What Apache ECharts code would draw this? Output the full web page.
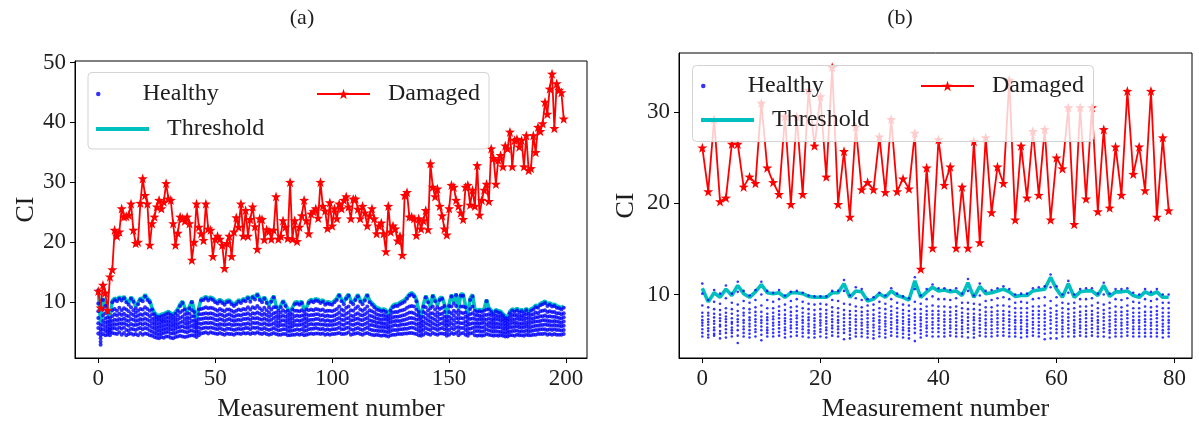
<!DOCTYPE html>
<html>
<head>
<meta charset="utf-8">
<script src="https://cdn.jsdelivr.net/npm/echarts@6/dist/echarts.min.js"></script>
<style>
html, body { margin: 0; padding: 0; background: #ffffff; }
#chart { width: 1199px; height: 430px; }
</style>
</head>
<body>
<div id="chart"></div>
<script>
// ---------- Panel (a): 200 measurements ----------
const damagedA = [
  11.8, 9.0, 12.8, 11.5, 8.6, 14.2, 15.4, 22.0, 21.0, 21.7,
  25.6, 24.2, 24.3, 24.5, 26.4, 22.0, 19.8, 20.0, 26.5, 30.6,
  27.8, 26.4, 19.5, 23.1, 24.2, 25.9, 27.0, 25.6, 26.7, 29.8,
  27.2, 27.0, 23.1, 19.5, 21.5, 24.2, 23.9, 23.5, 24.2, 23.1,
  17.0, 20.0, 26.4, 22.5, 21.4, 20.3, 26.4, 22.2, 22.0, 17.6,
  20.5, 21.0, 20.5, 19.5, 15.6, 19.8, 21.0, 17.6, 21.7, 24.1,
  22.5, 26.4, 21.0, 25.3, 21.0, 23.8, 25.9, 22.6, 18.8, 23.9,
  23.8, 20.4, 22.1, 21.8, 20.5, 22.0, 27.6, 20.5, 21.0, 23.6,
  22.5, 20.6, 30.0, 20.5, 23.6, 20.1, 22.5, 24.4, 27.0, 23.6,
  21.4, 24.7, 25.1, 25.6, 24.0, 30.0, 26.0, 25.2, 22.3, 26.6,
  22.7, 25.6, 23.9, 26.4, 25.6, 27.0, 27.6, 25.9, 23.9, 27.2,
  27.2, 25.5, 23.9, 26.0, 24.9, 22.7, 24.4, 25.6, 23.9, 21.4,
  22.7, 23.2, 21.4, 18.4, 26.0, 21.7, 22.7, 22.2, 20.2, 21.0,
  17.8, 27.8, 28.3, 24.2, 24.2, 23.9, 21.1, 23.9, 22.2, 23.6,
  25.3, 22.1, 33.1, 29.2, 27.6, 28.9, 26.0, 24.4, 22.2, 21.2,
  25.6, 29.5, 29.2, 27.0, 26.0, 24.9, 23.8, 29.2, 29.5, 26.2,
  28.7, 26.0, 32.8, 24.5, 27.0, 28.7, 29.7, 26.8, 35.6, 34.0,
  29.7, 33.7, 34.5, 32.6, 36.1, 35.6, 38.4, 32.6, 37.0, 37.2,
  35.9, 37.0, 32.6, 37.8, 32.0, 32.3, 37.8, 35.0, 39.2, 38.5,
  39.8, 43.4, 41.4, 45.6, 48.1, 39.0, 46.5, 45.4, 45.0, 40.6
];

const thresholdA = [
  12.2, 6.4, 10.6, 9.6, 8.4, 7.4, 10.2, 10.6, 10.4, 10.8,
  10.5, 10.9, 10.2, 9.8, 10.8, 10.3, 9.2, 9.9, 10.6, 10.4,
  11.2, 10.6, 10.2, 9.0, 8.2, 7.8, 7.7, 7.9, 8.0, 8.2,
  8.4, 8.1, 7.9, 8.3, 8.8, 9.6, 10.1, 9.0, 8.4, 9.2,
  10.2, 8.6, 7.2, 9.0, 10.5, 10.6, 10.9, 10.5, 10.8, 10.6,
  10.2, 10.0, 10.4, 10.1, 9.8, 10.2, 10.3, 9.9, 9.6, 9.9,
  10.3, 10.1, 10.5, 10.4, 10.9, 10.3, 11.0, 10.7, 11.4, 10.6,
  10.2, 10.8, 10.1, 9.4, 10.3, 11.0, 9.4, 8.8, 9.4, 10.2,
  9.6, 8.8, 8.4, 9.0, 9.9, 10.0, 9.8, 10.1, 8.6, 9.0,
  10.1, 10.4, 10.2, 10.5, 10.4, 10.1, 10.3, 9.8, 10.0, 9.9,
  9.8, 10.2, 10.6, 11.3, 10.4, 9.9, 10.8, 11.3, 10.2, 9.9,
  10.6, 11.2, 10.3, 9.9, 10.5, 11.3, 10.2, 9.8, 9.4, 9.0,
  8.9, 8.7, 8.8, 8.6, 7.9, 8.8, 9.4, 9.6, 9.6, 9.9,
  10.1, 10.3, 10.8, 11.3, 11.5, 11.2, 10.4, 8.6, 7.7, 9.5,
  11.0, 10.2, 9.2, 11.2, 10.4, 9.4, 10.6, 10.8, 9.6, 7.8,
  9.6, 11.2, 10.0, 11.4, 8.8, 11.3, 11.3, 9.4, 8.0, 10.6,
  11.2, 8.8, 8.6, 8.7, 8.6, 8.8, 10.4, 9.0, 8.6, 8.2,
  8.7, 8.5, 8.4, 8.0, 7.6, 7.5, 8.4, 8.8, 8.6, 8.9,
  8.5, 8.7, 8.4, 8.9, 8.3, 8.8, 9.0, 9.4, 9.3, 9.7,
  9.9, 10.1, 9.6, 9.8, 9.5, 9.6, 9.3, 9.2, 9.0, 9.3
];

// healthy readings per measurement, in tenths of CI
const healthyA = [
  [119,97,84,73,64,56,47],[61,55,50,44,39,33,28],[103,88,77,68,61,54,46],[93,81,72,65,58,51,44],[82,74,67,61,55,50,45],
  [72,67,62,57,53,49,44],[99,86,76,68,61,55,48],[103,88,79,70,63,56,47],[101,85,77,69,62,54,46],[105,90,80,71,64,57,49],
  [102,86,78,70,63,55,45],[106,89,80,72,64,57,48],[99,87,77,69,62,53,44],[95,84,76,68,60,52,46],[105,91,80,71,63,55,47],
  [100,86,78,70,61,54,45],[89,82,75,68,61,53,46],[96,85,77,69,62,55,44],[103,88,79,71,64,56,48],[101,87,78,70,62,54,45],
  [109,91,81,72,64,56,47],[103,88,79,70,62,55,46],[99,85,76,68,60,52,44],[87,79,71,64,57,50,43],[79,73,67,61,55,48,41],
  [75,70,64,58,52,46,40],[74,69,63,57,51,45,39],[76,70,65,59,53,47,41],[77,71,66,60,54,48,40],[79,73,67,61,55,49,42],
  [81,74,68,62,56,50,42],[78,72,66,60,54,47,40],[76,70,64,59,53,47,39],[80,73,67,61,55,48,41],[85,77,70,63,57,50,42],
  [93,82,73,65,58,51,43],[98,85,75,67,59,51,42],[87,79,71,64,57,50,41],[81,74,68,62,56,49,42],[89,80,72,65,58,51,43],
  [99,86,76,68,60,52,44],[83,76,69,63,57,50,43],[69,65,61,57,52,47,41],[87,79,71,64,57,50,44],[102,88,79,71,63,55,47],
  [103,89,80,72,64,56,48],[106,91,81,73,65,57,49],[102,89,80,72,64,56,47],[105,90,81,73,65,57,49],[103,89,80,72,64,56,48],
  [99,87,78,70,62,55,47],[97,85,77,69,61,54,46],[101,88,79,71,63,56,48],[98,86,78,70,62,54,46],[95,84,76,68,61,53,45],
  [99,87,78,70,62,55,47],[100,87,79,71,63,55,46],[96,85,77,69,61,54,46],[93,83,75,68,61,53,45],[96,85,77,69,62,54,47],
  [100,87,78,70,62,55,47],[98,86,77,69,61,54,46],[102,88,79,71,63,55,48],[101,87,79,71,63,56,47],[106,91,81,72,64,56,48],
  [100,87,78,70,62,54,46],[107,91,81,73,65,57,48],[104,89,80,72,64,56,47],[111,93,82,73,65,57,49],[103,89,80,71,63,55,47],
  [99,86,78,70,62,54,46],[105,90,80,72,64,56,48],[98,86,78,70,62,54,46],[91,82,75,68,61,53,45],[100,87,78,70,62,54,46],
  [107,91,81,73,64,56,48],[91,82,75,68,61,54,46],[85,78,72,65,59,52,45],[91,82,75,68,61,53,45],[99,86,77,69,61,54,46],
  [93,83,75,68,61,54,46],[85,78,71,65,58,51,44],[81,75,69,63,57,51,44],[87,79,72,65,59,52,45],[96,85,76,68,61,53,45],
  [97,85,77,69,61,54,46],[95,84,76,68,61,53,45],[98,86,77,69,62,54,46],[83,77,71,64,58,51,44],[87,79,72,66,59,52,45],
  [98,86,77,69,62,54,46],[101,87,78,70,63,55,47],[99,86,78,70,62,55,46],[102,88,79,71,63,56,47],[101,87,79,71,63,55,47],
  [98,86,77,69,62,54,46],[100,87,78,70,62,55,47],[95,84,76,68,61,53,45],[97,85,77,69,61,54,46],[96,85,76,68,61,53,45],
  [95,84,76,68,61,54,46],[99,86,77,69,62,54,46],[103,88,79,71,63,55,47],[110,92,82,73,65,57,48],[101,87,78,70,62,54,46],
  [96,85,77,69,61,54,46],[105,90,80,72,64,56,47],[110,92,82,73,65,57,49],[99,86,77,69,62,54,45],[96,85,76,69,61,53,46],
  [103,89,79,71,63,55,47],[109,92,81,72,64,56,48],[100,87,78,70,62,54,46],[96,85,77,69,61,53,45],[102,88,79,71,63,55,47],
  [110,92,82,73,65,57,48],[99,86,77,69,61,54,46],[95,84,76,68,61,53,45],[91,82,74,67,60,52,44],[87,79,72,65,59,52,45],
  [86,78,71,65,58,51,44],[84,77,70,64,58,51,43],[85,78,71,64,58,51,44],[83,76,70,63,57,50,43],[76,71,66,60,55,49,42],
  [85,78,71,65,58,51,44],[91,82,74,67,60,53,45],[93,83,75,68,61,53,45],[93,83,75,68,60,53,46],[96,85,76,68,61,54,46],
  [98,86,77,69,62,54,46],[100,87,78,70,62,55,47],[105,90,80,71,63,55,47],[110,92,82,73,64,56,48],[112,93,82,73,65,57,48],
  [109,92,81,72,64,56,47],[101,87,78,70,62,54,46],[83,77,71,64,58,51,44],[74,69,64,59,54,49,43],[92,83,75,67,60,53,45],
  [107,91,81,72,64,56,48],[99,86,77,69,62,54,46],[89,81,74,67,60,53,45],[109,92,81,72,64,56,48],[101,87,78,70,62,55,46],
  [91,82,75,67,60,53,45],[103,88,79,71,63,55,47],[105,90,80,72,64,56,47],[93,83,75,68,61,54,46],[75,70,65,60,55,49,43],
  [93,83,75,68,61,53,45],[109,92,81,72,64,56,48],[97,85,77,69,61,54,46],[111,93,82,73,65,57,48],[85,78,71,65,58,51,44],
  [110,92,82,73,64,56,47],[110,92,81,72,64,56,48],[91,82,75,67,60,53,45],[77,72,66,61,55,49,43],[103,88,79,71,63,55,47],
  [109,92,81,72,64,56,48],[85,78,71,64,58,51,44],[83,77,70,64,58,51,43],[84,77,71,64,58,51,44],[83,76,70,64,57,50,43],
  [85,78,71,65,58,51,44],[101,87,78,70,62,54,46],[87,79,72,65,59,52,45],[83,77,70,64,58,51,44],[79,73,68,62,56,50,43],
  [84,77,71,64,58,51,44],[82,76,70,63,57,50,43],[81,75,69,63,57,50,44],[77,72,67,61,55,49,43],[73,69,64,59,54,48,42],
  [72,68,63,58,53,48,42],[81,75,69,63,57,50,44],[85,78,71,65,58,51,44],[83,77,70,64,58,51,43],[86,78,72,65,59,52,45],
  [82,76,70,63,57,50,44],[84,77,71,64,58,51,44],[81,75,69,63,57,50,43],[86,79,72,65,59,52,45],[80,74,68,62,56,50,44],
  [85,78,71,65,58,51,44],[87,79,72,66,59,52,45],[91,82,74,67,60,53,45],[90,81,74,67,60,53,46],[94,84,76,68,61,54,46],
  [96,85,76,69,61,54,46],[98,86,77,69,62,54,47],[93,83,75,68,61,53,45],[95,84,76,68,61,54,46],[92,83,75,67,60,53,45],
  [93,83,75,68,61,54,46],[90,81,74,67,60,53,45],[89,81,73,66,60,53,45],[87,79,72,65,59,52,45],[90,81,74,67,60,53,46]
];

// ---------- Panel (b): 80 measurements ----------
const damagedB = [
  26.1, 21.3, 29.2, 20.2, 20.6, 26.5, 26.5, 21.8, 22.9, 22.2,
  31.0, 23.9, 22.3, 21.0, 29.5, 19.9, 29.5, 21.0, 32.4, 26.3,
  31.7, 22.9, 34.9, 19.9, 25.7, 18.5, 28.4, 21.5, 22.3, 21.5,
  27.3, 21.2, 29.2, 21.3, 22.7, 21.6, 27.7, 12.8, 23.9, 15.1,
  27.0, 22.0, 24.0, 15.1, 21.8, 15.1, 26.8, 15.7, 27.2, 19.0,
  24.0, 22.2, 33.5, 18.2, 26.3, 20.6, 27.9, 20.9, 28.1, 18.2,
  25.0, 23.8, 30.5, 17.7, 30.5, 20.5, 30.5, 19.1, 28.1, 19.5,
  26.2, 20.9, 32.3, 23.2, 26.2, 21.4, 32.3, 18.5, 27.2, 19.2
];

const thresholdB = [
  10.7, 9.2, 10.2, 9.7, 10.6, 9.9, 11.0, 10.1, 9.7, 10.3,
  11.1, 10.2, 10.1, 10.2, 9.7, 10.2, 10.2, 10.1, 9.8, 9.7,
  9.7, 9.7, 10.2, 10.2, 11.2, 9.7, 10.4, 10.3, 9.3, 9.5,
  10.1, 9.7, 10.4, 9.9, 9.7, 9.4, 11.5, 9.7, 10.3, 10.8,
  10.4, 10.5, 10.3, 10.4, 9.9, 11.3, 9.7, 10.9, 10.1, 10.2,
  10.4, 10.6, 10.3, 9.8, 9.9, 9.9, 10.4, 10.5, 10.6, 11.9,
  10.6, 9.7, 11.2, 9.7, 10.3, 10.4, 10.4, 9.9, 11.0, 9.8,
  10.3, 10.3, 10.4, 9.9, 9.7, 10.3, 10.0, 10.3, 9.7, 9.7
];

// healthy readings per measurement, in tenths of CI
const healthyB = [
  [112,101,88,80,76,72,69,66,62,58,54],[94,86,80,77,73,70,67,63,60,56,53],[105,92,84,79,75,71,68,64,61,57,55],[101,90,83,78,74,71,67,65,60,57,52],
  [110,96,85,80,76,73,70,66,62,58,53],[101,91,84,79,74,70,68,64,61,58,54],[114,103,89,82,77,73,70,66,61,55,47],[104,93,85,80,77,72,69,65,62,58,54],
  [99,91,84,80,75,72,68,65,61,57,53],[105,94,86,81,77,73,70,66,62,59,54],[114,100,88,81,76,72,69,65,61,56,50],[104,94,85,79,75,72,68,64,61,58,54],
  [102,92,85,80,76,73,69,66,62,58,54],[105,95,87,82,78,74,70,67,63,59,55],[99,89,83,78,74,71,68,64,61,57,53],[103,93,86,81,77,73,70,66,63,59,54],
  [104,95,87,82,77,74,70,67,63,59,55],[102,92,85,80,76,72,69,65,62,58,54],[99,90,84,79,75,72,68,65,61,58,53],[98,89,83,78,74,71,67,64,60,57,53],
  [98,90,84,79,76,72,69,66,62,59,54],[98,89,83,79,75,71,68,64,61,57,53],[104,94,86,81,77,73,70,66,63,59,55],[104,93,85,80,76,72,69,65,62,58,54],
  [116,104,90,83,78,74,70,66,62,58,51],[99,89,82,78,74,70,67,63,60,56,52],[108,96,87,82,77,73,70,66,62,58,54],[106,94,86,81,77,73,69,66,62,58,54],
  [95,88,82,78,74,70,67,64,60,57,53],[97,89,83,78,74,71,67,64,60,56,52],[102,92,85,80,76,72,69,65,62,58,54],[99,90,84,79,75,71,68,65,61,57,53],
  [107,95,87,82,78,74,70,67,63,59,55],[101,91,85,80,76,72,69,65,62,58,54],[98,89,83,79,75,71,68,64,61,57,53],[96,88,82,77,73,70,67,63,60,56,52],
  [119,106,92,84,79,75,71,67,63,58,49],[99,90,84,79,75,72,68,65,61,57,53],[106,95,87,82,78,74,70,66,63,59,55],[111,98,88,82,78,74,70,67,63,59,54],
  [107,95,87,82,78,74,71,67,63,59,54],[107,95,87,81,77,73,70,66,62,58,54],[105,94,86,81,77,73,70,66,63,59,55],[107,96,87,82,78,74,70,66,62,58,54],
  [101,91,85,80,76,72,69,65,62,58,54],[117,104,91,84,79,75,71,67,63,59,53],[99,90,84,79,75,72,68,64,61,57,53],[112,99,89,83,78,74,71,67,63,59,55],
  [104,93,86,81,77,73,69,66,62,58,54],[105,94,86,81,77,73,70,66,62,58,54],[107,96,88,82,78,74,70,67,63,59,55],[109,97,88,82,78,74,71,67,63,59,55],
  [106,95,87,81,77,73,70,66,62,58,54],[100,91,85,80,76,72,69,65,62,58,54],[101,92,85,80,76,72,69,65,62,58,53],[101,91,85,80,76,72,68,65,61,58,54],
  [107,95,87,82,78,74,70,67,63,59,55],[108,96,87,82,78,74,70,66,62,58,54],[109,97,88,82,78,74,70,66,62,57,51],[122,108,93,85,80,76,72,68,63,58,52],
  [109,97,88,82,78,74,70,66,62,58,52],[100,91,85,80,76,72,69,65,62,58,54],[115,102,90,84,79,75,71,67,63,59,54],[100,91,85,80,76,72,68,65,61,58,54],
  [106,95,87,81,77,73,70,66,63,59,55],[107,95,87,82,78,74,70,66,62,58,54],[107,96,88,82,78,74,71,67,63,59,55],[101,91,85,80,76,72,69,65,62,58,54],
  [113,100,89,83,79,75,71,67,63,59,54],[101,91,85,80,76,72,68,65,61,58,53],[106,95,87,81,77,73,70,66,62,58,54],[106,94,86,81,77,73,69,66,62,58,54],
  [107,96,88,82,78,74,70,67,63,59,55],[102,92,85,80,76,72,69,65,62,58,54],[100,91,85,80,76,72,69,65,62,58,54],[106,95,87,81,77,73,70,66,62,58,54],
  [103,93,86,81,77,73,69,66,62,58,54],[106,95,87,82,78,74,70,66,62,58,54],[100,91,85,80,76,72,68,65,61,58,53],[100,91,85,80,76,72,69,65,62,58,54]
];

// axis tick values
const xTicksA = [0, 50, 100, 150, 200];
const yTicksA = [10, 20, 30, 40, 50];
const xTicksB = [0, 20, 40, 60, 80];
const yTicksB = [10, 20, 30];

// ---------- helpers ----------
const FONT = 'Liberation Serif';
const TEXT = '#1e1e1e';
const STAR = 'path://M0,-10 L2.35,-3.24 L9.51,-3.09 L3.8,1.24 L5.88,8.09 L0,4 L-5.88,8.09 L-3.8,1.24 L-9.51,-3.09 L-2.35,-3.24 Z';

const toPairs = arr => arr.map((v, i) => [i, v]);
const toScatter = cols => {
  const out = [];
  cols.forEach((col, i) => col.forEach(t => out.push([i, t / 10])));
  return out;
};

function xAxisCfg(grid, min, max, ticks) {
  return {
    type: 'value', gridIndex: grid, min: min, max: max,
    name: 'Measurement number', nameLocation: 'middle', nameGap: 38,
    nameTextStyle: { fontFamily: FONT, fontSize: 26, color: TEXT },
    axisLine: { show: true, onZero: false, lineStyle: { color: '#000', width: 1 } },
    axisTick: { show: true, inside: false, length: 5, customValues: ticks, lineStyle: { color: '#000', width: 1 } },
    axisLabel: { customValues: ticks, margin: 9, fontFamily: FONT, fontSize: 23, color: TEXT },
    splitLine: { show: false }
  };
}
function yAxisCfg(grid, min, max, ticks, gap) {
  return {
    type: 'value', gridIndex: grid, min: min, max: max,
    name: 'CI', nameLocation: 'middle', nameGap: gap, nameRotate: 90,
    nameTextStyle: { fontFamily: FONT, fontSize: 26, color: TEXT },
    axisLine: { show: true, onZero: false, lineStyle: { color: '#000', width: 1 } },
    axisTick: { show: true, inside: false, length: 5, customValues: ticks, lineStyle: { color: '#000', width: 1 } },
    axisLabel: { customValues: ticks, margin: 9, fontFamily: FONT, fontSize: 23, color: TEXT },
    splitLine: { show: false }
  };
}
function seriesFor(axisIdx, healthy, threshold, damaged, dotSize) {
  return [
    { name: 'Healthy', type: 'scatter', xAxisIndex: axisIdx, yAxisIndex: axisIdx,
      data: toScatter(healthy), symbol: 'circle', symbolSize: dotSize,
      itemStyle: { color: '#0000ff' }, z: 2 },
    { name: 'Threshold', type: 'line', xAxisIndex: axisIdx, yAxisIndex: axisIdx,
      data: toPairs(threshold), symbol: 'none', showSymbol: false,
      lineStyle: { color: '#00bfbf', width: 3.6 }, itemStyle: { color: '#00bfbf' }, z: 2 },
    { name: 'Damaged', type: 'line', xAxisIndex: axisIdx, yAxisIndex: axisIdx,
      data: toPairs(damaged), symbol: STAR, symbolSize: 10, showAllSymbol: true,
      lineStyle: { color: '#ff0000', width: 1.8 }, itemStyle: { color: '#ff0000' }, z: 2 }
  ];
}
function legendItem(name, left, top, itemHeight, icon) {
  const item = icon ? { name: name, icon: icon } : name;
  return {
    data: [item], left: left, top: top, padding: 0, orient: 'horizontal',
    itemWidth: 53, itemHeight: itemHeight, selectedMode: false, z: 5,
    textStyle: { fontFamily: FONT, fontSize: 24, color: TEXT, lineHeight: 26, padding: [0, 0, 0, 13] }
  };
}

const chart = echarts.init(document.getElementById('chart'), null, { renderer: 'canvas' });

chart.setOption({
  animation: false,
  backgroundColor: '#ffffff',
  title: [
    { text: '(a)', left: 297, top: 2, textAlign: 'center', textStyle: { fontFamily: FONT, fontSize: 22, fontWeight: 'normal', color: TEXT } },
    { text: '(b)', left: 895, top: 2, textAlign: 'center', textStyle: { fontFamily: FONT, fontSize: 22, fontWeight: 'normal', color: TEXT } }
  ],
  grid: [
    { left: 75, top: 61, width: 512, height: 297, show: true, borderColor: '#000', borderWidth: 1, backgroundColor: 'transparent' },
    { left: 679, top: 53, width: 513, height: 305, show: true, borderColor: '#000', borderWidth: 1, backgroundColor: 'transparent' }
  ],
  xAxis: [
    xAxisCfg(0, -9.95, 208.95, xTicksA),
    xAxisCfg(1, -3.95, 82.95, xTicksB)
  ],
  yAxis: [
    yAxisCfg(0, 0.6, 50.25, yTicksA, 36),
    yAxisCfg(1, 3.05, 36.47, yTicksB, 40)
  ],
  legend: [
    legendItem('Healthy', 96, 81, 4.5, 'circle'),
    legendItem('Threshold', 96, 116, 4, 'rect'),
    legendItem('Damaged', 316, 81, 13),
    legendItem('Healthy', 701, 73, 4.5, 'circle'),
    legendItem('Threshold', 701, 107, 4, 'rect'),
    legendItem('Damaged', 920, 73, 13)
  ],
  graphic: [
    { type: 'rect', z: 3, shape: { x: 88, y: 72.5, width: 401, height: 76.5, r: 4 },
      style: { fill: 'rgba(255,255,255,0.8)', stroke: '#d3d3d3', lineWidth: 1 } },
    { type: 'rect', z: 3, shape: { x: 692.5, y: 65.5, width: 401, height: 76, r: 4 },
      style: { fill: 'rgba(255,255,255,0.8)', stroke: '#d3d3d3', lineWidth: 1 } }
  ],
  series: [].concat(
    seriesFor(0, healthyA, thresholdA, damagedA, 4),
    seriesFor(1, healthyB, thresholdB, damagedB, 2.6)
  )
});
</script>
</body>
</html>
